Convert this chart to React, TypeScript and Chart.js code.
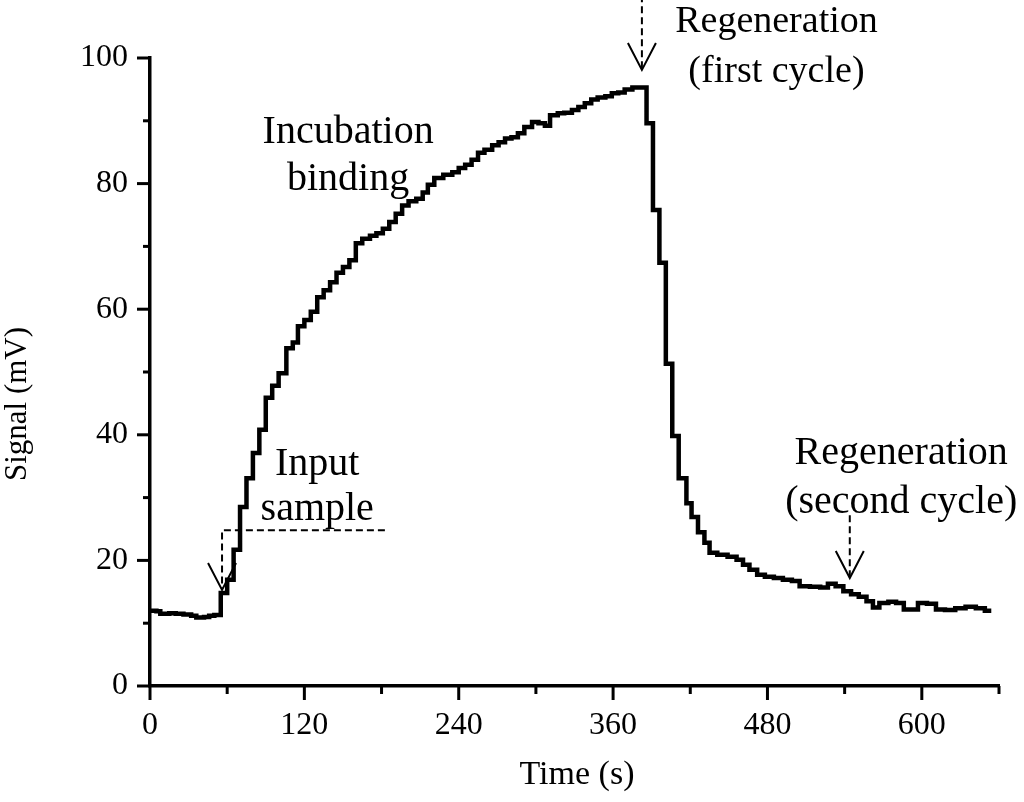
import { useEffect, useRef } from "react";
import { Chart, registerables } from "chart.js";

Chart.register(...registerables);

// ---- data ----
const timeS = [
  0, 5, 8, 15, 20, 26, 32, 36, 42, 46, 50, 55, 60, 65, 70, 75, 80, 85, 90, 95,
  100, 106, 111, 115, 120, 125, 130, 135, 140, 145, 150, 155, 160, 165, 171, 176,
  181, 186, 191, 196, 201, 207, 212, 216, 221, 228, 235, 240, 245, 250, 255, 260,
  266, 271, 276, 281, 286, 291, 297, 302, 307, 311, 317, 322, 328, 333, 338, 343,
  348, 354, 359, 364, 369, 375, 386, 391, 396, 401, 406, 411, 417, 421, 426, 431,
  435, 441, 449, 456, 461, 466, 472, 478, 485, 492, 499, 505, 513, 521, 527, 533,
  539, 545, 551, 557, 562, 567, 574, 580, 586, 597, 604, 611, 618, 626, 634, 642,
  649, 654,
];
const signalMV = [
  12.0, 11.9, 11.5, 11.6, 11.5, 11.4, 11.2, 10.9, 11.0, 11.2, 11.3, 14.8, 16.9, 21.7, 28.5, 33.1, 37.1, 40.8, 45.9, 47.8,
  49.8, 53.8, 54.7, 57.3, 58.3, 59.6, 61.9, 63.0, 64.3, 65.8, 66.7, 67.8, 70.5, 71.2, 71.7, 72.1,
  72.8, 73.9, 75.2, 76.5, 77.2, 77.6, 78.6, 79.8, 80.9, 81.4, 81.8, 82.5, 83.0, 83.8, 84.9, 85.4,
  86.1, 86.6, 87.2, 87.4, 88.0, 89.0, 89.8, 89.6, 89.2, 90.9, 91.2, 91.3, 91.7, 92.2, 92.8, 93.4,
  93.7, 93.9, 94.4, 94.5, 95.0, 95.3, 89.6, 75.8, 67.4, 51.3, 39.8, 33.1, 29.1, 26.9, 24.5, 22.8,
  21.2, 20.9, 20.6, 20.1, 19.3, 18.5, 17.7, 17.4, 17.2, 16.9, 16.7, 15.9, 15.8, 15.7, 16.3, 15.9,
  15.1, 14.6, 14.2, 13.5, 12.5, 13.2, 13.4, 13.2, 12.2, 13.2, 13.1, 12.2, 12.1, 12.4, 12.6, 12.4,
  12.0, 12.0,
];

const xMin = 0;
const xMax = 660;
const yMin = 0;
const yMax = 100;
const xTickLabels = [0, 120, 240, 360, 480, 600];
const yTickLabels = [0, 20, 40, 60, 80, 100];
const xMinorStep = 60;
const yMinorStep = 10;

const xTitle = "Time (s)";
const yTitle = "Signal (mV)";

// annotations (data coordinates)
const textNotes = [
  { lines: ["Incubation", "binding"], t: 154, v: 88.1, size: 40, lineGap: 47 },
  { lines: ["Input", "sample"], t: 130, v: 35.2, size: 40, lineGap: 45 },
  { lines: ["Regeneration", "(first cycle)"], t: 487, v: 105.7, size: 38, lineGap: 50 },
  { lines: ["Regeneration", "(second cycle)"], t: 584, v: 37.1, size: 40, lineGap: 49 },
];
// dashed arrows: polyline points (data coords), last point is arrow tip
const dashedArrows = [
  { pts: [[182.6, 24.8], [56, 24.8], [56, 15.3]] },
  { pts: [[382.4, 110], [382.4, 98.1]] },
  { pts: [[544, 27.2], [544, 17.2]] },
];

const FONT = '"Liberation Serif", "Times New Roman", serif';

const overlayPlugin = {
  id: "overlay",
  afterDraw(chart: any) {
    const { ctx, chartArea, scales } = chart;
    const xs = scales.x;
    const ys = scales.y;
    ctx.save();
    ctx.strokeStyle = "#000";
    ctx.fillStyle = "#000";
    ctx.lineWidth = 3;
    ctx.lineCap = "butt";
    // tick marks (major at labelled values, minor between)
    for (let v = yMin; v <= yMax + 1e-9; v += yMinorStep) {
      const py = ys.getPixelForValue(v);
      const len = yTickLabels.includes(v) ? 13 : 7;
      ctx.beginPath();
      ctx.moveTo(chartArea.left - len, py);
      ctx.lineTo(chartArea.left, py);
      ctx.stroke();
    }
    for (let t = xMin; t <= xMax + 1e-9; t += xMinorStep) {
      const px = xs.getPixelForValue(t);
      const len = xTickLabels.includes(t) ? 14 : 8;
      ctx.beginPath();
      ctx.moveTo(px, chartArea.bottom);
      ctx.lineTo(px, chartArea.bottom + len);
      ctx.stroke();
    }
    // axis titles
    ctx.textAlign = "center";
    ctx.textBaseline = "middle";
    ctx.font = `31px ${FONT}`;
    ctx.save();
    ctx.translate(18, 404);
    ctx.rotate(-Math.PI / 2);
    ctx.fillText(yTitle, 0, 0);
    ctx.restore();
    ctx.font = `34px ${FONT}`;
    ctx.fillText(xTitle, 577, 775);

    // text notes
    for (const n of textNotes) {
      ctx.font = `${n.size}px ${FONT}`;
      const cx = xs.getPixelForValue(n.t);
      const cy = ys.getPixelForValue(n.v);
      n.lines.forEach((s, i) => ctx.fillText(s, cx, cy + i * n.lineGap));
    }

    // dashed arrows
    ctx.lineWidth = 2;
    for (const a of dashedArrows) {
      const p = a.pts.map(([t, v]) => [xs.getPixelForValue(t), ys.getPixelForValue(v)]);
      ctx.setLineDash([7, 4]);
      ctx.beginPath();
      ctx.moveTo(p[0][0], p[0][1]);
      for (let i = 1; i < p.length; i++) ctx.lineTo(p[i][0], p[i][1]);
      ctx.stroke();
      ctx.setLineDash([]);
      const tip = p[p.length - 1];
      ctx.beginPath();
      ctx.moveTo(tip[0] - 14, tip[1] - 27);
      ctx.lineTo(tip[0], tip[1]);
      ctx.lineTo(tip[0] + 14, tip[1] - 27);
      ctx.stroke();
    }
    ctx.restore();
  },
};

export default function App() {
  const ref = useRef<HTMLCanvasElement | null>(null);
  useEffect(() => {
    if (!ref.current) return;
    const chart = new Chart(ref.current, {
      type: "line",
      data: {
        datasets: [
          {
            data: timeS.map((t, i) => ({ x: t, y: signalMV[i] })),
            borderColor: "#000",
            borderWidth: 4.5,
            stepped: "before",
            pointRadius: 0,
            fill: false,
            clip: false,
          } as any,
        ],
      },
      options: {
        animation: false,
        responsive: false,
        layout: { padding: { top: 58, right: 25, left: 0, bottom: 0 } },
        plugins: { legend: { display: false }, tooltip: { enabled: false } },
        scales: {
          x: {
            type: "linear",
            min: xMin,
            max: xMax,
            grid: { display: false, drawTicks: false },
            border: { display: true, color: "#000", width: 3.5 },
            ticks: {
              color: "#000",
              font: { family: FONT, size: 32 },
              padding: 20,
              maxRotation: 0,
              autoSkip: false,
            },
            afterBuildTicks: (s: any) => {
              s.ticks = xTickLabels.map((v) => ({ value: v }));
            },
            afterFit: (s: any) => {
              s.height = 116;
            },
          },
          y: {
            type: "linear",
            min: yMin,
            max: yMax,
            grid: { display: false, drawTicks: false },
            border: { display: true, color: "#000", width: 3.5 },
            ticks: {
              color: "#000",
              font: { family: FONT, size: 32 },
              padding: 22,
              autoSkip: false,
            },
            afterBuildTicks: (s: any) => {
              s.ticks = yTickLabels.map((v) => ({ value: v }));
            },
            afterFit: (s: any) => {
              s.width = 150;
            },
          },
        },
      },
      plugins: [overlayPlugin],
    });
    return () => chart.destroy();
  }, []);
  return (
    <div style={{ position: "absolute", left: 0, top: 0, width: 1024, height: 802, background: "#fff" }}>
      <canvas ref={ref} width={1024} height={802} />
    </div>
  );
}
